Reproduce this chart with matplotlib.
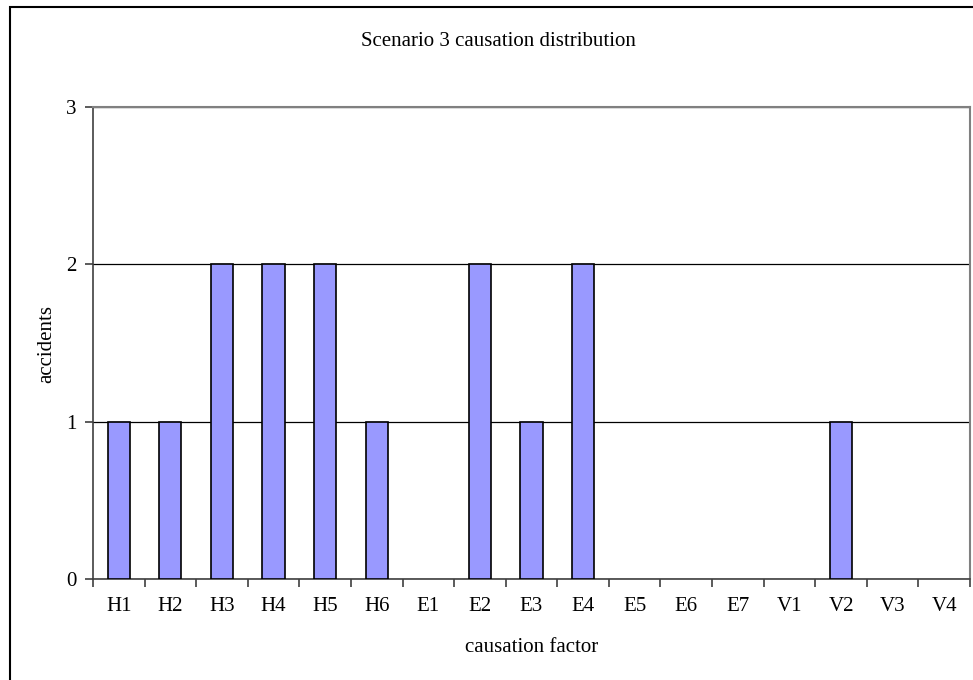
import numpy as np
from matplotlib import pyplot as plt
from matplotlib.patches import Rectangle

factors = ["H1", "H2", "H3", "H4", "H5", "H6", "E1", "E2", "E3", "E4",
           "E5", "E6", "E7", "V1", "V2", "V3", "V4"]
accidents = [1, 1, 2, 2, 2, 1, 0, 2, 1, 2, 0, 0, 0, 0, 1, 0, 0]

plt.rcParams['font.family'] = ['Liberation Serif', 'DejaVu Serif']
fs = 15

fig = plt.figure(figsize=(9.73, 6.8), dpi=100)
ax = fig.add_axes([93 / 973, 1 - 579 / 680, (970 - 93) / 973, (579 - 107) / 680])

x = np.arange(len(factors))
edges = ["black" if v > 0 else "none" for v in accidents]
ax.bar(x, accidents, width=0.43, color="#9999ff", edgecolor=edges, linewidth=1.2, zorder=3)

ax.set_xlim(-0.5, len(factors) - 0.5)
ax.set_ylim(0, 3)
ax.set_yticks([0, 1, 2, 3])
ax.set_xticks(x)
ax.set_xticklabels(factors)
ax.set_xticks(np.arange(-0.5, len(factors)), minor=True)
ax.tick_params(axis="x", which="major", length=0, pad=13, labelsize=fs)
ax.tick_params(axis="x", which="minor", length=6, width=1.2, direction="out", color="#404040")
ax.tick_params(axis="y", length=6, width=1.2, direction="out", color="#404040", pad=6, labelsize=fs)

ax.grid(axis="y", color="black", linewidth=0.9, zorder=0)
for s in ["top", "right"]:
    ax.spines[s].set_color("#808080")
    ax.spines[s].set_linewidth(1.5)
for s in ["left", "bottom"]:
    ax.spines[s].set_color("#404040")
    ax.spines[s].set_linewidth(1.2)

fig.text(47 / 973, 1 - 344 / 680, "accidents", rotation=90,
         ha="center", va="center", fontsize=fs)
fig.text(532 / 973, 1 - 648 / 680, "causation factor",
         ha="center", va="center", fontsize=fs)
fig.text(498 / 973, 1 - 42 / 680, "Scenario 3 causation distribution",
         ha="center", va="center", fontsize=fs)

# chart frame (right and bottom edges fall outside the image)
fig.patches.append(Rectangle((10 / 973, -0.1), 1.0, 1 - 7 / 680 + 0.1,
                             transform=fig.transFigure, fill=False,
                             edgecolor="black", linewidth=1.5))

fig.savefig("out.png", dpi=100)
